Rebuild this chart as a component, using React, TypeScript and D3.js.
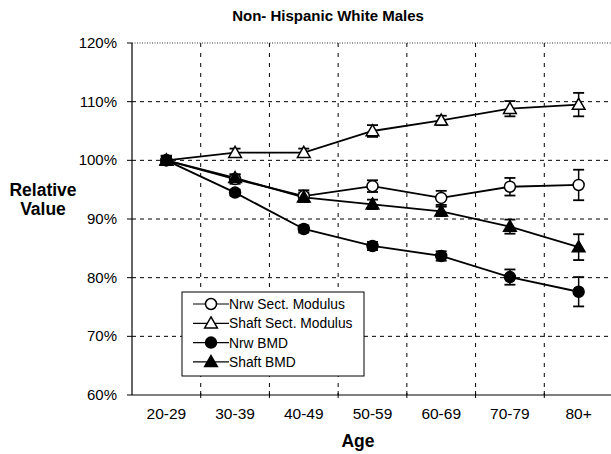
import React from "react";
import * as d3 from "d3";

const categories = ["20-29", "30-39", "40-49", "50-59", "60-69", "70-79", "80+"];
const yTicks = [60, 70, 80, 90, 100, 110, 120];

const nrwSectModulus = [100, 96.8, 93.9, 95.6, 93.6, 95.5, 95.8];
const nrwSectModulusErr = [0.8, 0.8, 1.0, 1.0, 1.2, 1.5, 2.6];
const shaftSectModulus = [100, 101.3, 101.3, 105.0, 106.8, 108.8, 109.5];
const shaftSectModulusErr = [0.7, 0.7, 0.7, 1.0, 0.8, 1.3, 2.0];
const nrwBMD = [100, 94.5, 88.3, 85.4, 83.7, 80.1, 77.6];
const nrwBMDErr = [0.7, 0.5, 0.6, 0.7, 0.8, 1.3, 2.5];
const shaftBMD = [100, 97.0, 93.7, 92.5, 91.3, 88.7, 85.2];
const shaftBMDErr = [0.7, 0.6, 0.8, 0.8, 0.8, 1.2, 2.2];

const seriesNames = ["Nrw Sect. Modulus", "Shaft Sect. Modulus", "Nrw BMD", "Shaft BMD"];

type Series = { name: string; values: number[]; err: number[]; shape: "circle" | "triangle"; filled: boolean };
const series: Series[] = [
  { name: seriesNames[0], values: nrwSectModulus, err: nrwSectModulusErr, shape: "circle", filled: false },
  { name: seriesNames[1], values: shaftSectModulus, err: shaftSectModulusErr, shape: "triangle", filled: false },
  { name: seriesNames[2], values: nrwBMD, err: nrwBMDErr, shape: "circle", filled: true },
  { name: seriesNames[3], values: shaftBMD, err: shaftBMDErr, shape: "triangle", filled: true },
];

const W = 611, H = 454;
const left = 132, right = 613, top = 43, bottom = 395;
const font = "'Liberation Sans', Arial, Helvetica, sans-serif";

function Marker({ s, x, y }: { s: Series; x: number; y: number }) {
  const fill = s.filled ? "#000" : "#fff";
  if (s.shape === "circle") {
    return <circle cx={x} cy={y} r={5.5} fill={fill} stroke="#000" strokeWidth={1.5} />;
  }
  const sym = d3.symbol().type(d3.symbolTriangle).size(70)();
  return <path d={sym || ""} transform={`translate(${x},${y + 1})`} fill={fill} stroke="#000" strokeWidth={1.5} />;
}

export default function App() {
  const x = d3.scaleBand().domain(categories).range([left, right]).padding(0);
  const y = d3.scaleLinear().domain([60, 120]).range([bottom, top]);
  const cx = (c: string) => (x(c) as number) + x.bandwidth() / 2;
  const line = d3
    .line<number>()
    .x((_, i) => cx(categories[i]))
    .y((v) => y(v));

  const boundaries = categories.slice(1).map((c) => x(c) as number);

  const legendX = 182, legendY = 292, legendW = 182, legendH = 84;

  return (
    <svg width={W} height={H} style={{ position: "absolute", left: 0, top: 0, background: "#fff" }} fontFamily={font}>
      <rect width={W} height={H} fill="#fff" />
      <text x={328} y={21} textAnchor="middle" fontSize={15} fontWeight="bold">Non- Hispanic White Males</text>

      {/* horizontal grid */}
      {yTicks.filter((t) => t > 60).map((t) => (
        <line key={t} x1={left} x2={W} y1={y(t)} y2={y(t)} stroke="#000" strokeWidth={t === 120 ? 0.8 : 1}
          strokeDasharray={t === 120 ? "1,1.5" : "4,4"} />
      ))}
      {/* vertical grid */}
      {boundaries.map((b, i) => (
        <line key={i} x1={b} x2={b} y1={top} y2={bottom} stroke="#000" strokeWidth={1} strokeDasharray="4,6" />
      ))}

      {/* axes */}
      <line x1={left} x2={left} y1={top} y2={bottom} stroke="#000" strokeWidth={1.2} />
      <line x1={left} x2={W} y1={bottom} y2={bottom} stroke="#000" strokeWidth={1.2} />
      {yTicks.map((t) => (
        <g key={t}>
          <line x1={left - 5} x2={left} y1={y(t)} y2={y(t)} stroke="#000" />
          <text x={117} y={y(t) + 5} textAnchor="end" fontSize={15}>{t}%</text>
        </g>
      ))}
      {boundaries.map((b, i) => (
        <line key={i} x1={b} x2={b} y1={bottom - 4} y2={bottom + 3} stroke="#000" />
      ))}
      {categories.map((c) => (
        <text key={c} x={cx(c)} y={419} textAnchor="middle" fontSize={15.5}>{c}</text>
      ))}

      <text x={43} y={196} textAnchor="middle" fontSize={17.5} fontWeight="bold">Relative</text>
      <text x={43} y={215} textAnchor="middle" fontSize={17.5} fontWeight="bold">Value</text>
      <text x={358} y={447} textAnchor="middle" fontSize={17.5} fontWeight="bold">Age</text>

      {/* series */}
      {series.map((s) => (
        <g key={s.name}>
          <path d={line(s.values) || ""} fill="none" stroke="#000" strokeWidth={1.8} />
          {s.values.map((v, i) => {
            const px = cx(categories[i]);
            const y1 = y(v + s.err[i]);
            const y2 = y(v - s.err[i]);
            return (
              <g key={i}>
                <line x1={px} x2={px} y1={y1} y2={y2} stroke="#000" strokeWidth={1.5} />
                <line x1={px - 5.5} x2={px + 5.5} y1={y1} y2={y1} stroke="#000" strokeWidth={1.8} />
                <line x1={px - 5.5} x2={px + 5.5} y1={y2} y2={y2} stroke="#000" strokeWidth={1.8} />
              </g>
            );
          })}
        </g>
      ))}
      {series.map((s) => (
        <g key={s.name + "m"}>
          {s.values.map((v, i) => (
            <Marker key={i} s={s} x={cx(categories[i])} y={y(v)} />
          ))}
        </g>
      ))}

      {/* legend */}
      <rect x={legendX} y={legendY} width={legendW} height={legendH} fill="#fff" stroke="#000" strokeWidth={1} />
      {series.map((s, i) => {
        const ly = legendY + 12 + i * 19.3;
        return (
          <g key={s.name + "l"}>
            <line x1={193} x2={229} y1={ly} y2={ly} stroke="#000" strokeWidth={1.2} />
            <Marker s={s} x={211} y={ly} />
            <text x={229} y={ly + 5} fontSize={13.8}>{s.name}</text>
          </g>
        );
      })}
    </svg>
  );
}
